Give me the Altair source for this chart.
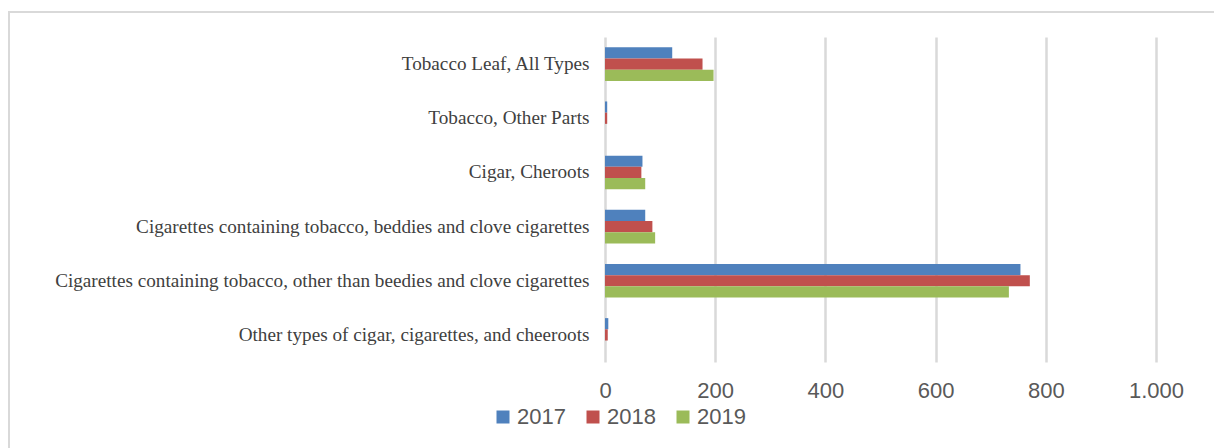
import altair as alt
import pandas as pd

categories = [
    "Tobacco Leaf, All Types",
    "Tobacco, Other Parts",
    "Cigar, Cheroots",
    "Cigarettes containing tobacco, beddies and clove cigarettes",
    "Cigarettes containing tobacco, other than beedies and clove cigarettes",
    "Other types of cigar, cigarettes, and cheeroots",
]
years = ["2017", "2018", "2019"]
v2017 = [122, 4, 68, 73, 754, 6]
v2018 = [177, 4, 66, 86, 771, 5]
v2019 = [197, 0, 73, 91, 733, 0]
colors = ["#4F81BD", "#C0504D", "#9BBB59"]
x_ticks = [0, 200, 400, 600, 800, 1000]

rows = []
for yr, vals in zip(years, [v2017, v2018, v2019]):
    for c, v in zip(categories, vals):
        rows.append({"category": c, "year": yr, "value": v})
df = pd.DataFrame(rows)

bars = alt.Chart(df).mark_bar().encode(
    x=alt.X(
        "value:Q",
        scale=alt.Scale(domain=[0, 1000], nice=False),
        axis=alt.Axis(
            values=x_ticks, title=None, grid=True, gridColor="#d9d9d9", gridWidth=2.5,
            domain=False, ticks=False, labelFont="Liberation Sans", labelFontSize=22,
            labelColor="#595959", labelPadding=18, labelFlush=False,
            labelExpr="replace(format(datum.value, ','), ',', '.')",
        ),
    ),
    y=alt.Y(
        "category:N", sort=categories,
        scale=alt.Scale(paddingInner=0.38, paddingOuter=0.19),
        axis=alt.Axis(
            title=None, domain=False, ticks=False, grid=False,
            labelFont="Liberation Serif", labelFontSize=19.2, labelColor="#404040",
            labelPadding=16, labelLimit=800,
        ),
    ),
    yOffset=alt.YOffset("year:N", sort=years),
    color=alt.Color(
        "year:N",
        scale=alt.Scale(domain=years, range=colors),
        legend=alt.Legend(
            orient="none", legendX=-113, legendY=369, direction="horizontal",
            title=None, symbolType="square", symbolSize=169, symbolStrokeWidth=0,
            labelFont="Liberation Sans", labelFontSize=22, labelColor="#595959",
            columnPadding=16, labelOffset=3,
        ),
    ),
)

frame = alt.Chart(pd.DataFrame({"a": [0]})).mark_rect(
    fillOpacity=0, stroke="#d9d9d9", strokeWidth=2
).encode(
    x=alt.value(-596), x2=alt.value(640), y=alt.value(-25), y2=alt.value(440)
)

chart = alt.layer(frame, bars).properties(
    width=551, height=325,
    padding={"left": 605, "top": 37, "right": 58, "bottom": 86},
    autosize=alt.AutoSizeParams(type="none"),
    background="white",
).configure_view(strokeWidth=0)

chart.save("out.html", embed_options={"renderer": "svg", "actions": False})
